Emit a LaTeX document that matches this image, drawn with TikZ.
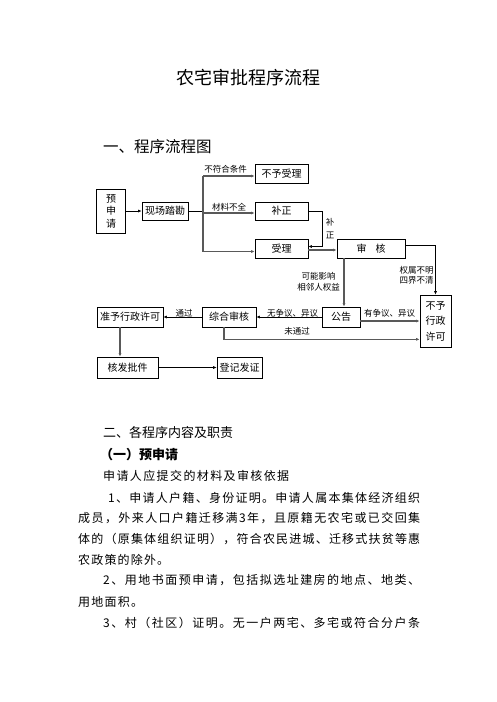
\documentclass[tikz,border=0pt]{standalone}
\usepackage{fontspec}
\setmainfont{Noto Sans CJK SC}
\usetikzlibrary{arrows.meta}
% spread the characters of one line over a fixed width
\newcommand\spreadtext[1]{\spreadfirst#1\relax}
\def\spreadfirst#1{#1\spreadrest}
\def\spreadrest#1{\ifx#1\relax\else\hskip 0pt plus 1fil #1\expandafter\spreadrest\fi}

\begin{document}
\begin{tikzpicture}[x=1pt,y=-1pt,
    box/.style={draw, line width=0.7pt, inner sep=0pt, align=center, font=\fontsize{10}{12.5}\selectfont},
    tag/.style={inner sep=0pt, align=center, font=\fontsize{8.5}{10.5}\selectfont},
    arr/.style={-{Latex[length=3.5pt,width=3pt]}, line width=0.6pt},
    garr/.style={-{Latex[length=3.5pt,width=3pt]}, line width=1.1pt, draw=black!65},
    gline/.style={line width=1.1pt, draw=black!65},
    body/.style={anchor=west, inner sep=0pt, font=\fontsize{12}{14}\selectfont}]
    \useasboundingbox (0,0) rectangle (496,702);
    % Title
    \node[font=\fontsize{18}{20}\selectfont] (title) at (248,78) {农宅审批程序流程};
    \node[anchor=west, inner sep=0pt, font=\fontsize{15.5}{18}\selectfont] (part1) at (103,147) {一、程序流程图};
    % Boxes
    \node[box, minimum width=29pt, minimum height=44pt] (pre) at (111,211) {预\\申\\请};
    \node[box, minimum width=46pt, minimum height=18pt] (survey) at (165,211) {现场踏勘};
    \node[box, minimum width=53pt, minimum height=19pt] (reject) at (281.5,173.5) {不予受理};
    \node[box, minimum width=53pt, minimum height=18pt] (amend) at (281.5,211) {补正};
    \node[box, minimum width=53pt, minimum height=19pt] (accept) at (281.5,248.5) {受理};
    \node[box, minimum width=68pt, minimum height=19pt] (review) at (371,248.5) {审\hspace{9pt}核};
    \node[box, minimum width=38pt, minimum height=20pt] (notice) at (341,317) {公告};
    \node[box, minimum width=54pt, minimum height=20pt] (overall) at (229,317) {综合审核};
    \node[box, minimum width=66pt, minimum height=20pt] (grant) at (130,317) {准予行政许可};
    \node[box, minimum width=31pt, minimum height=52pt, font=\fontsize{10}{15.5}\selectfont] (deny) at (435.5,321) {不予\\行政\\许可};
    \node[box, minimum width=61pt, minimum height=21pt] (issue) at (127.5,367.5) {核发批件};
    \node[box, minimum width=45pt, minimum height=21pt] (register) at (239.5,367.5) {登记发证};
    % Fork after the survey
    \coordinate (fork) at (203,211);
    \draw[arr] (pre) -- (survey);
    \draw[line width=0.6pt] (survey) -- (fork);
    \draw[gline] ([yshift=-2.5pt]fork |- reject.west) -- ([yshift=-3pt]fork |- accept.west);
    \draw[garr] ([yshift=-2.5pt]fork |- reject.west) -- ([yshift=-2.5pt]reject.west);
    \node[tag] at (225.5,169.5) {不符合条件};
    \draw[garr] ([yshift=-2pt]fork |- amend.west) -- ([yshift=-2pt]amend.west);
    \node[tag] at (229,207.5) {材料不全};
    \draw[garr] ([yshift=-3pt]fork |- accept.west) -- ([yshift=-3pt]accept.west);
    % Amend back to accept
    \draw[arr] (amend.east) -- ++(14,0) |- ([yshift=2pt]accept.east);
    \node[tag, font=\fontsize{8.5}{13}\selectfont] at (330,228.5) {补\\正};
    \draw[garr] ([yshift=-1.5pt]accept.east) -- ([yshift=-1.5pt]review.west);
    % Review down to notice and deny
    \draw[garr] ([xshift=3pt]review.south -| notice.north) -- ([xshift=3pt]notice.north);
    \node[tag] at (318.5,282) {可能影响\\相邻人权益};
    \draw[arr] ([yshift=3pt]review.east) -| (deny.north);
    \node[tag] at (416.5,275.5) {权属不明\\四界不清};
    % Notice row
    \draw[garr] (notice.east |- deny.west) -- (deny.west);
    \node[tag] at (389.5,313) {有争议、异议};
    \draw[arr] (notice) -- (overall);
    \node[tag] at (292.5,313) {无争议、异议};
    \draw[arr] (overall) -- (grant);
    \node[tag] at (184,313) {通过};
    \draw[garr] ([xshift=-5pt]overall.south) |- ([yshift=8pt]deny.south west);
    \node[tag] at (297,331) {未通过};
    % Issue and register
    \draw[garr] ([xshift=-10pt]grant.south) -- ([xshift=-10pt]grant.south |- issue.north);
    \draw[arr] (issue) -- (register);
    % Text below
    \node[anchor=west, inner sep=0pt, font=\fontsize{13}{15}\selectfont] (part2) at (103,433) {二、各程序内容及职责};
    \node[anchor=west, inner sep=0pt, font=\fontsize{13}{15}\selectfont\bfseries] (sub1) at (100,455) {（一）预申请};
    \node[body] (l0) at (103,476) {\hbox to 186pt{\spreadtext{申请人应提交的材料及审核依据}}};
    \node[body] (l1) at (108,497.5) {\hbox to 312pt{\spreadtext{1、申请人户籍、身份证明。申请人属本集体经济组织}}};
    \node[body] (l2) at (78,518) {\hbox to 342pt{\spreadtext{成员，外来人口户籍迁移满3年，且原籍无农宅或已交回集}}};
    \node[body] (l3) at (78,539) {\hbox to 342pt{\spreadtext{体的（原集体组织证明），符合农民进城、迁移式扶贫等惠}}};
    \node[body] (l4) at (78,560) {\hbox to 91pt{\spreadtext{农政策的除外。}}};
    \node[body] (l5) at (103,580.5) {\hbox to 317pt{\spreadtext{2、用地书面预申请，包括拟选址建房的地点、地类、}}};
    \node[body] (l6) at (78,601.5) {\hbox to 65pt{\spreadtext{用地面积。}}};
    \node[body] (l7) at (103,622.5) {\hbox to 317pt{\spreadtext{3、村（社区）证明。无一户两宅、多宅或符合分户条}}};
\end{tikzpicture}
\end{document}
